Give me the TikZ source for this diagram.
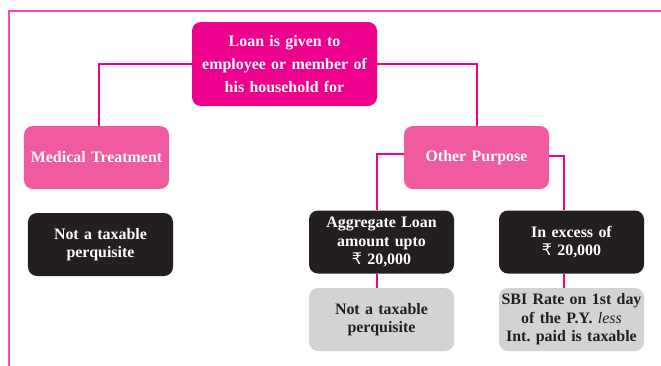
\documentclass[tikz,border=0pt]{standalone}
\usepackage{fontspec}
\setmainfont{Liberation Serif}
\newfontfamily\rupeefont{DejaVu Sans}
\usepackage{tikz}
\usetikzlibrary{shapes, arrows, calc, positioning}
\definecolor{magentabox}{HTML}{EC008C}
\definecolor{pinkbox}{HTML}{F05A9F}
\definecolor{darkbox}{HTML}{231F20}
\definecolor{greybox}{HTML}{D1D3D4}
\definecolor{framepink}{HTML}{F04FAE}
\tikzstyle{basebox} = [rectangle, rounded corners=9bp, minimum width=145bp, minimum height=63bp, text width=142bp, align=center, inner sep=0pt, font=\bfseries\fontsize{16}{18.5}\selectfont]
\tikzstyle{rootbox} = [basebox, minimum width=185bp, minimum height=84bp, text width=182bp, fill=magentabox, text=white, font=\bfseries\fontsize{16}{23}\selectfont]
\tikzstyle{purposebox} = [basebox, fill=pinkbox, text=white]
\tikzstyle{resultbox} = [basebox, fill=darkbox, text=white]
\tikzstyle{finalbox} = [basebox, fill=greybox, text=darkbox]
\tikzstyle{link} = [line width=2bp, draw=magentabox]
\tikzstyle{frame} = [line width=1.3bp, draw=framepink]
\newcommand{\rs}{{\rupeefont\mdseries\char"20B9}}
\frenchspacing
\begin{document}
\begin{tikzpicture}[x=1bp, y=-1bp]
\useasboundingbox (0,0) rectangle (661,365);
\draw [frame] (9,366) -- (9,11) -- (662,11);
\node (loan) [rootbox] at (284.5,64) {Loan is given to\\employee or member of\\his household for};
\node (medical) [purposebox] at (96.5,157.5) {Medical Treatment};
\node (other) [purposebox] at (476.5,157.5) {Other Purpose};
\node (notmed) [resultbox] at (100.5,244.5) {Not a taxable\\perquisite};
\node (aggregate) [resultbox] at (381.5,242) {Aggregate Loan\\amount upto\\\rs{} 20,000};
\node (excess) [resultbox] at (571.5,242) {In excess of\\\rs{} 20,000};
\node (notagg) [finalbox] at (381.5,319.5) {Not a taxable\\perquisite};
\node (sbi) [finalbox] at (571.5,319.5) {SBI Rate on 1st day\\of the P.Y. {\mdseries\itshape less}\\Int. paid is taxable};
\draw [link] (loan.west) -| ([xshift=2.5bp]medical.north);
\draw [link] (loan.east) -| (other.north);
\draw [link] ([yshift=4bp]other.west) -| ([xshift=-4.5bp]aggregate.north);
\draw [link] ([yshift=1.5bp]other.east) -| ([xshift=-7.5bp]excess.north);
\draw [link] ([xshift=-4.5bp]aggregate.south) -- ([xshift=-4.5bp]notagg.north);
\draw [link] ([xshift=-7.5bp]excess.south) -- ([xshift=-7.5bp]sbi.north);
\end{tikzpicture}
\end{document}
